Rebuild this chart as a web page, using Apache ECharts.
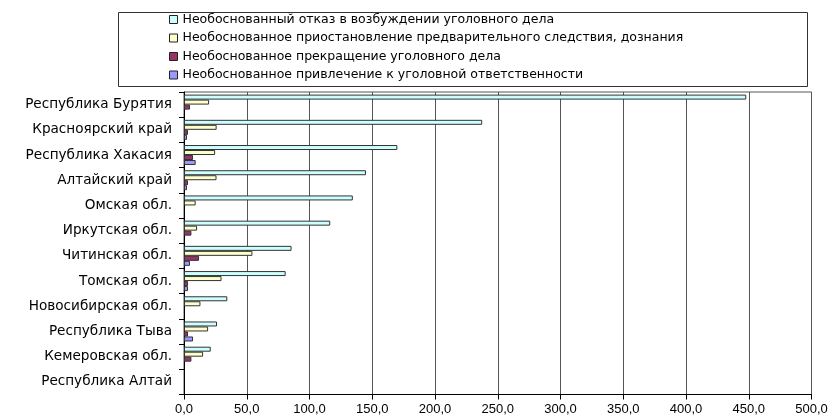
<!DOCTYPE html>
<html>
<head>
<meta charset="utf-8">
<script src="https://cdn.jsdelivr.net/npm/echarts@6/dist/echarts.min.js"></script>
<style>
  html, body { margin: 0; padding: 0; background: #fff; }
  #chart { width: 832px; height: 420px; }
</style>
</head>
<body>
<div id="chart"></div>
<script>
// Regions (top to bottom)
const regions = [
  'Республика Бурятия', 'Красноярский край', 'Республика Хакасия', 'Алтайский край',
  'Омская обл.', 'Иркутская обл.', 'Читинская обл.', 'Томская обл.',
  'Новосибирская обл.', 'Республика Тыва', 'Кемеровская обл.', 'Республика Алтай'
];

const seriesNames = [
  'Необоснованный отказ в возбуждении уголовного дела',
  'Необоснованное приостановление предварительного следствия, дознания',
  'Необоснованное прекращение уголовного дела',
  'Необоснованное привлечение к уголовной ответственности'
];

const refusal     = [448, 237.6, 170, 145, 134.5, 116.5, 85.7, 81, 34.5, 26.3, 21.3, 0];
const suspension  = [20, 26, 24.8, 25.9, 9.3, 10.4, 54.5, 29.9, 13.1, 19.2, 15.2, 0];
const termination = [4.8, 3.2, 7.2, 3.2, 0, 5.9, 12, 3.2, 0, 3.2, 5.9, 0];
const prosecution = [0, 2.4, 9.3, 2.4, 0, 0, 4.8, 3.2, 0, 7.2, 0, 0];

const xTicks = { min: 0, max: 500, step: 50 };

const colors = ['#CCFFFF', '#FFFFCC', '#993366', '#9999FF'];
const font = 'DejaVu Sans, Arial, sans-serif';
const tickFont = 'Liberation Sans, Arial, sans-serif';

// empty values are left undrawn
const clean = arr => arr.map(v => (v === 0 ? '-' : v));

const chart = echarts.init(document.getElementById('chart'), null, { renderer: 'canvas' });

const allData = [refusal, suspension, termination, prosecution];

chart.setOption({
  animation: false,
  backgroundColor: '#fff',
  color: colors,
  textStyle: { fontFamily: font },
  graphic: [{
    type: 'rect',
    shape: { x: 118.5, y: 12.5, width: 689, height: 74 },
    style: { fill: 'none', stroke: '#333', lineWidth: 1 },
    z: 0
  }],
  legend: {
    orient: 'vertical',
    left: 169,
    top: 12,
    padding: 0,
    itemWidth: 8,
    itemHeight: 8,
    itemGap: 3.5,
    icon: 'rect',
    itemStyle: { borderColor: '#222', borderWidth: 1 },
    textStyle: { fontSize: 12.5, color: '#000', fontFamily: font, padding: [0, 0, 0, 0], lineHeight: 15 },
    data: seriesNames
  },
  grid: {
    left: 184,
    right: 20.5,
    top: 92,
    bottom: 25.5,
    show: true,
    borderColor: '#555',
    borderWidth: 1
  },
  xAxis: {
    type: 'value',
    min: xTicks.min,
    max: xTicks.max,
    interval: xTicks.step,
    axisLine: { show: true, lineStyle: { color: '#000', width: 1 } },
    axisTick: { show: true, length: 5, lineStyle: { color: '#000' } },
    axisLabel: {
      color: '#000', fontSize: 13, fontFamily: tickFont, margin: 8,
      formatter: v => v.toFixed(1).replace('.', ',')
    },
    splitLine: { show: true, lineStyle: { color: '#555', width: 1 } }
  },
  yAxis: {
    type: 'category',
    inverse: true,
    data: regions,
    axisLine: { show: true, lineStyle: { color: '#000', width: 1 } },
    axisTick: { show: true, length: 5, inside: false, lineStyle: { color: '#000' } },
    axisLabel: { color: '#000', fontSize: 13.6, fontFamily: font, margin: 12 },
    splitLine: { show: false }
  },
  series: seriesNames.map((name, i) => ({
    name,
    type: 'bar',
    data: clean(allData[i]),
    barWidth: 5,
    barGap: '0%',
    itemStyle: { color: colors[i], borderColor: '#333', borderWidth: 1 }
  }))
});
</script>
</body>
</html>
